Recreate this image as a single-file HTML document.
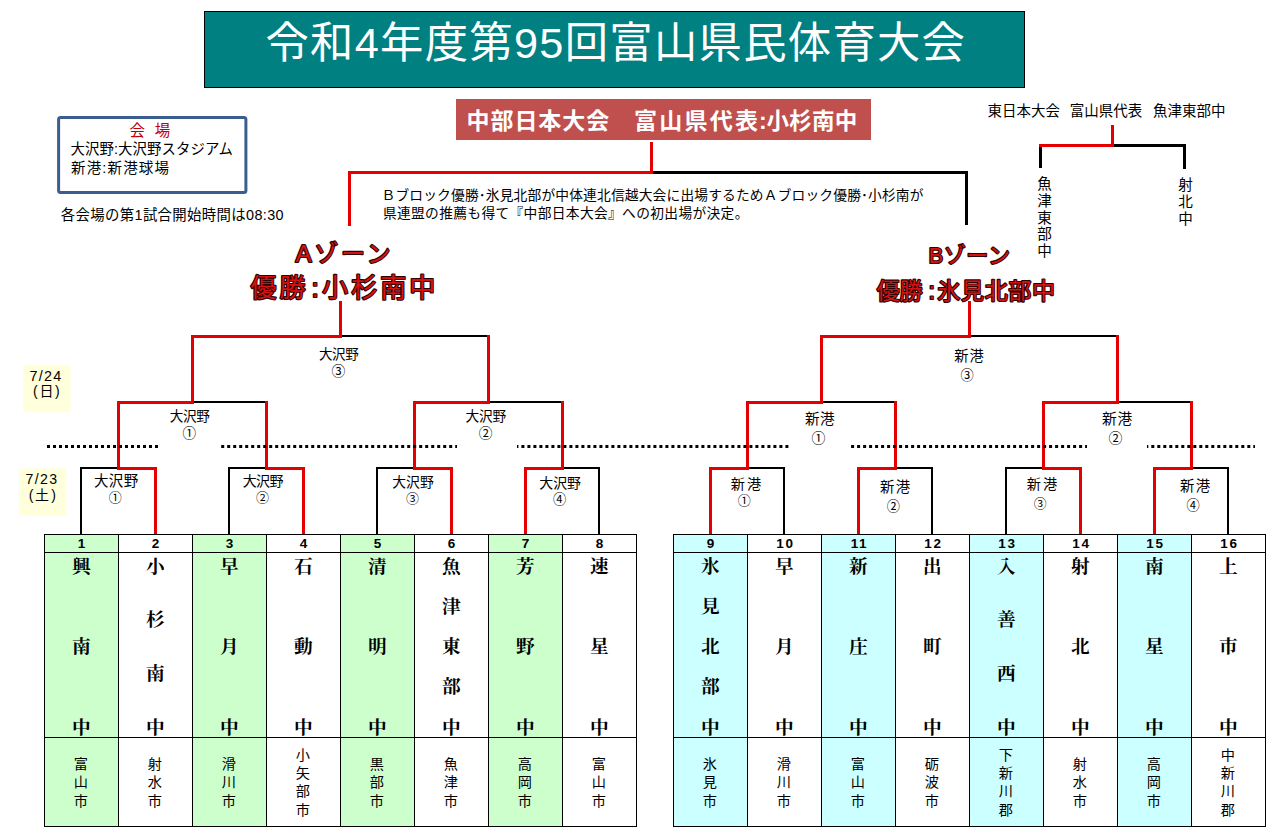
<!DOCTYPE html>
<html lang="ja"><head><meta charset="utf-8"><title>令和4年度第95回富山県民体育大会</title>
<style>
html,body{margin:0;padding:0;background:#fff}
body{width:1266px;height:827px;overflow:hidden;position:relative;font-family:"Liberation Sans",sans-serif}
#pg{position:absolute;left:0;top:0;width:1266px;height:827px;overflow:hidden}
svg{position:absolute;left:0;top:0}
svg text{font-family:"Liberation Sans","Noto Sans CJK JP",sans-serif}
svg text.m{font-family:"Liberation Serif","Noto Serif CJK SC",serif;font-weight:bold;font-size:18.67px;text-anchor:middle;fill:#000}
svg text.c{font-size:14.2px;text-anchor:middle;fill:#000}
svg text.z{fill:#d41212;stroke:#2c0202;stroke-width:2.2;stroke-linejoin:round;paint-order:stroke}
.n{position:absolute;top:537px;width:40px;text-align:center;font-weight:bold;font-size:13.5px;line-height:14px;letter-spacing:1.6px;text-indent:1.6px;color:#000}
</style></head><body><div id="pg">
<svg width="1266" height="827" viewBox="0 0 1266 827">
<g shape-rendering="crispEdges"><rect x="204" y="11" width="821" height="77" fill="#000"/><rect x="205" y="12" width="819" height="75" fill="#008080"/><rect x="456" y="99" width="415" height="40.5" fill="#c0504d"/><rect x="45" y="535" width="73" height="291" fill="#ccffcc"/><rect x="193" y="535" width="73" height="291" fill="#ccffcc"/><rect x="341" y="535" width="73" height="291" fill="#ccffcc"/><rect x="489" y="535" width="73" height="291" fill="#ccffcc"/><rect x="44" y="534" width="593" height="1" fill="#000"/><rect x="44" y="552" width="593" height="1" fill="#000"/><rect x="44" y="737" width="593" height="1" fill="#000"/><rect x="44" y="826" width="593" height="1" fill="#000"/><rect x="44" y="534" width="1" height="293" fill="#000"/><rect x="118" y="534" width="1" height="293" fill="#000"/><rect x="192" y="534" width="1" height="293" fill="#000"/><rect x="266" y="534" width="1" height="293" fill="#000"/><rect x="340" y="534" width="1" height="293" fill="#000"/><rect x="414" y="534" width="1" height="293" fill="#000"/><rect x="488" y="534" width="1" height="293" fill="#000"/><rect x="562" y="534" width="1" height="293" fill="#000"/><rect x="636" y="534" width="1" height="293" fill="#000"/><rect x="674" y="535" width="73" height="291" fill="#ccffff"/><rect x="822" y="535" width="73" height="291" fill="#ccffff"/><rect x="970" y="535" width="73" height="291" fill="#ccffff"/><rect x="1118" y="535" width="73" height="291" fill="#ccffff"/><rect x="673" y="534" width="593" height="1" fill="#000"/><rect x="673" y="552" width="593" height="1" fill="#000"/><rect x="673" y="737" width="593" height="1" fill="#000"/><rect x="673" y="826" width="593" height="1" fill="#000"/><rect x="673" y="534" width="1" height="293" fill="#000"/><rect x="747" y="534" width="1" height="293" fill="#000"/><rect x="821" y="534" width="1" height="293" fill="#000"/><rect x="895" y="534" width="1" height="293" fill="#000"/><rect x="969" y="534" width="1" height="293" fill="#000"/><rect x="1043" y="534" width="1" height="293" fill="#000"/><rect x="1117" y="534" width="1" height="293" fill="#000"/><rect x="1191" y="534" width="1" height="293" fill="#000"/><rect x="1265" y="534" width="1" height="293" fill="#000"/><rect x="80" y="467" width="37" height="2" fill="#000"/><rect x="80" y="467" width="2" height="67" fill="#000"/><rect x="117" y="467" width="40" height="3" fill="#e40000"/><rect x="154" y="467" width="3" height="67" fill="#e40000"/><rect x="228" y="467" width="37" height="2" fill="#000"/><rect x="228" y="467" width="2" height="67" fill="#000"/><rect x="265" y="467" width="40" height="3" fill="#e40000"/><rect x="302" y="467" width="3" height="67" fill="#e40000"/><rect x="376" y="467" width="37" height="2" fill="#000"/><rect x="376" y="467" width="2" height="67" fill="#000"/><rect x="413" y="467" width="40" height="3" fill="#e40000"/><rect x="450" y="467" width="3" height="67" fill="#e40000"/><rect x="561" y="467" width="39" height="2" fill="#000"/><rect x="598" y="467" width="2" height="67" fill="#000"/><rect x="524" y="467" width="40" height="3" fill="#e40000"/><rect x="524" y="467" width="3" height="67" fill="#e40000"/><rect x="191" y="401" width="76" height="2" fill="#000"/><rect x="117" y="401" width="77" height="3" fill="#e40000"/><rect x="487" y="401" width="76" height="2" fill="#000"/><rect x="413" y="401" width="77" height="3" fill="#e40000"/><rect x="339" y="335" width="150" height="2" fill="#000"/><rect x="191" y="335" width="151" height="3" fill="#e40000"/><rect x="117" y="401" width="3" height="69" fill="#e40000"/><rect x="265" y="401" width="3" height="69" fill="#e40000"/><rect x="413" y="401" width="3" height="69" fill="#e40000"/><rect x="561" y="401" width="3" height="69" fill="#e40000"/><rect x="191" y="335" width="3" height="69" fill="#e40000"/><rect x="487" y="335" width="3" height="69" fill="#e40000"/><rect x="339" y="301" width="3" height="37" fill="#e40000"/><rect x="746" y="467" width="39" height="2" fill="#000"/><rect x="783" y="467" width="2" height="67" fill="#000"/><rect x="709" y="467" width="40" height="3" fill="#e40000"/><rect x="709" y="467" width="3" height="67" fill="#e40000"/><rect x="894" y="467" width="39" height="2" fill="#000"/><rect x="931" y="467" width="2" height="67" fill="#000"/><rect x="857" y="467" width="40" height="3" fill="#e40000"/><rect x="857" y="467" width="3" height="67" fill="#e40000"/><rect x="1005" y="467" width="37" height="2" fill="#000"/><rect x="1005" y="467" width="2" height="67" fill="#000"/><rect x="1042" y="467" width="40" height="3" fill="#e40000"/><rect x="1079" y="467" width="3" height="67" fill="#e40000"/><rect x="1190" y="467" width="39" height="2" fill="#000"/><rect x="1227" y="467" width="2" height="67" fill="#000"/><rect x="1153" y="467" width="40" height="3" fill="#e40000"/><rect x="1153" y="467" width="3" height="67" fill="#e40000"/><rect x="820" y="401" width="76" height="2" fill="#000"/><rect x="746" y="401" width="77" height="3" fill="#e40000"/><rect x="1116" y="401" width="76" height="2" fill="#000"/><rect x="1042" y="401" width="77" height="3" fill="#e40000"/><rect x="968" y="335" width="150" height="2" fill="#000"/><rect x="820" y="335" width="151" height="3" fill="#e40000"/><rect x="746" y="401" width="3" height="69" fill="#e40000"/><rect x="894" y="401" width="3" height="69" fill="#e40000"/><rect x="1042" y="401" width="3" height="69" fill="#e40000"/><rect x="1190" y="401" width="3" height="69" fill="#e40000"/><rect x="820" y="335" width="3" height="69" fill="#e40000"/><rect x="1116" y="335" width="3" height="69" fill="#e40000"/><rect x="968" y="301" width="3" height="37" fill="#e40000"/><rect x="653" y="171" width="315" height="3" fill="#000"/><rect x="965" y="171" width="3" height="53.6" fill="#000"/><rect x="348" y="171" width="305" height="3" fill="#e40000"/><rect x="348" y="171" width="3" height="55" fill="#e40000"/><rect x="650" y="142.4" width="3" height="31.6" fill="#e40000"/><rect x="1114" y="144" width="72" height="3" fill="#000"/><rect x="1039" y="146" width="3" height="22.3" fill="#000"/><rect x="1183" y="144" width="3" height="25.3" fill="#000"/><rect x="1039" y="144" width="75" height="3" fill="#e40000"/><rect x="1111" y="125.2" width="3" height="21.8" fill="#e40000"/></g>
<rect x="58.6" y="117.5" width="187.3" height="75" rx="2" fill="#fff" stroke="#3a5f8f" stroke-width="3"/><rect x="23.2" y="364.8" width="47.3" height="47.5" fill="#ffffdc"/><rect x="19" y="468.3" width="47.3" height="47.5" fill="#ffffdc"/><g fill="#000"><rect x="47" y="445" width="3" height="3"/><rect x="53" y="445" width="3" height="3"/><rect x="59" y="445" width="3" height="3"/><rect x="65" y="445" width="3" height="3"/><rect x="71" y="445" width="3" height="3"/><rect x="77" y="445" width="3" height="3"/><rect x="83" y="445" width="3" height="3"/><rect x="89" y="445" width="3" height="3"/><rect x="95" y="445" width="3" height="3"/><rect x="101" y="445" width="3" height="3"/><rect x="107" y="445" width="3" height="3"/><rect x="113" y="445" width="3" height="3"/><rect x="119" y="445" width="3" height="3"/><rect x="125" y="445" width="3" height="3"/><rect x="131" y="445" width="3" height="3"/><rect x="137" y="445" width="3" height="3"/><rect x="143" y="445" width="3" height="3"/><rect x="149" y="445" width="3" height="3"/><rect x="155" y="445" width="3" height="3"/><rect x="221.2" y="445" width="3" height="3"/><rect x="227.2" y="445" width="3" height="3"/><rect x="233.2" y="445" width="3" height="3"/><rect x="239.2" y="445" width="3" height="3"/><rect x="245.2" y="445" width="3" height="3"/><rect x="251.2" y="445" width="3" height="3"/><rect x="257.2" y="445" width="3" height="3"/><rect x="263.2" y="445" width="3" height="3"/><rect x="269.2" y="445" width="3" height="3"/><rect x="275.2" y="445" width="3" height="3"/><rect x="281.2" y="445" width="3" height="3"/><rect x="287.2" y="445" width="3" height="3"/><rect x="293.2" y="445" width="3" height="3"/><rect x="299.2" y="445" width="3" height="3"/><rect x="305.2" y="445" width="3" height="3"/><rect x="311.2" y="445" width="3" height="3"/><rect x="317.2" y="445" width="3" height="3"/><rect x="323.2" y="445" width="3" height="3"/><rect x="329.2" y="445" width="3" height="3"/><rect x="335.2" y="445" width="3" height="3"/><rect x="341.2" y="445" width="3" height="3"/><rect x="347.2" y="445" width="3" height="3"/><rect x="353.2" y="445" width="3" height="3"/><rect x="359.2" y="445" width="3" height="3"/><rect x="365.2" y="445" width="3" height="3"/><rect x="371.2" y="445" width="3" height="3"/><rect x="377.2" y="445" width="3" height="3"/><rect x="383.2" y="445" width="3" height="3"/><rect x="389.2" y="445" width="3" height="3"/><rect x="395.2" y="445" width="3" height="3"/><rect x="401.2" y="445" width="3" height="3"/><rect x="407.2" y="445" width="3" height="3"/><rect x="413.2" y="445" width="3" height="3"/><rect x="419.2" y="445" width="3" height="3"/><rect x="425.2" y="445" width="3" height="3"/><rect x="431.2" y="445" width="3" height="3"/><rect x="437.2" y="445" width="3" height="3"/><rect x="443.2" y="445" width="3" height="3"/><rect x="449.2" y="445" width="3" height="3"/><rect x="455.2" y="445" width="1.8" height="3"/><rect x="517" y="445" width="1.4" height="3"/><rect x="521.4" y="445" width="3" height="3"/><rect x="527.4" y="445" width="3" height="3"/><rect x="533.4" y="445" width="3" height="3"/><rect x="539.4" y="445" width="3" height="3"/><rect x="545.4" y="445" width="3" height="3"/><rect x="551.4" y="445" width="3" height="3"/><rect x="557.4" y="445" width="3" height="3"/><rect x="563.4" y="445" width="3" height="3"/><rect x="569.4" y="445" width="3" height="3"/><rect x="575.4" y="445" width="3" height="3"/><rect x="581.4" y="445" width="3" height="3"/><rect x="587.4" y="445" width="3" height="3"/><rect x="593.4" y="445" width="3" height="3"/><rect x="599.4" y="445" width="3" height="3"/><rect x="605.4" y="445" width="3" height="3"/><rect x="611.4" y="445" width="3" height="3"/><rect x="617.4" y="445" width="3" height="3"/><rect x="623.4" y="445" width="3" height="3"/><rect x="629.4" y="445" width="3" height="3"/><rect x="635.4" y="445" width="3" height="3"/><rect x="641.4" y="445" width="3" height="3"/><rect x="647.4" y="445" width="3" height="3"/><rect x="653.4" y="445" width="3" height="3"/><rect x="659.4" y="445" width="3" height="3"/><rect x="665.4" y="445" width="3" height="3"/><rect x="671.4" y="445" width="3" height="3"/><rect x="677.4" y="445" width="3" height="3"/><rect x="683.4" y="445" width="3" height="3"/><rect x="689.4" y="445" width="3" height="3"/><rect x="695.4" y="445" width="3" height="3"/><rect x="701.4" y="445" width="3" height="3"/><rect x="707.4" y="445" width="3" height="3"/><rect x="713.4" y="445" width="3" height="3"/><rect x="719.4" y="445" width="3" height="3"/><rect x="725.4" y="445" width="3" height="3"/><rect x="731.4" y="445" width="3" height="3"/><rect x="737.4" y="445" width="3" height="3"/><rect x="743.4" y="445" width="3" height="3"/><rect x="749.4" y="445" width="3" height="3"/><rect x="755.4" y="445" width="3" height="3"/><rect x="761.4" y="445" width="3" height="3"/><rect x="767.4" y="445" width="3" height="3"/><rect x="773.4" y="445" width="3" height="3"/><rect x="779.4" y="445" width="3" height="3"/><rect x="785.4" y="445" width="3" height="3"/><rect x="851.1" y="445" width="3" height="3"/><rect x="857.1" y="445" width="3" height="3"/><rect x="863.1" y="445" width="3" height="3"/><rect x="869.1" y="445" width="3" height="3"/><rect x="875.1" y="445" width="3" height="3"/><rect x="881.1" y="445" width="3" height="3"/><rect x="887.1" y="445" width="3" height="3"/><rect x="893.1" y="445" width="3" height="3"/><rect x="899.1" y="445" width="3" height="3"/><rect x="905.1" y="445" width="3" height="3"/><rect x="911.1" y="445" width="3" height="3"/><rect x="917.1" y="445" width="3" height="3"/><rect x="923.1" y="445" width="3" height="3"/><rect x="929.1" y="445" width="3" height="3"/><rect x="935.1" y="445" width="3" height="3"/><rect x="941.1" y="445" width="3" height="3"/><rect x="947.1" y="445" width="3" height="3"/><rect x="953.1" y="445" width="3" height="3"/><rect x="959.1" y="445" width="3" height="3"/><rect x="965.1" y="445" width="3" height="3"/><rect x="971.1" y="445" width="3" height="3"/><rect x="977.1" y="445" width="3" height="3"/><rect x="983.1" y="445" width="3" height="3"/><rect x="989.1" y="445" width="3" height="3"/><rect x="995.1" y="445" width="3" height="3"/><rect x="1001.1" y="445" width="3" height="3"/><rect x="1007.1" y="445" width="3" height="3"/><rect x="1013.1" y="445" width="3" height="3"/><rect x="1019.1" y="445" width="3" height="3"/><rect x="1025.1" y="445" width="3" height="3"/><rect x="1031.1" y="445" width="3" height="3"/><rect x="1037.1" y="445" width="3" height="3"/><rect x="1043.1" y="445" width="3" height="3"/><rect x="1049.1" y="445" width="3" height="3"/><rect x="1055.1" y="445" width="3" height="3"/><rect x="1061.1" y="445" width="3" height="3"/><rect x="1067.1" y="445" width="3" height="3"/><rect x="1073.1" y="445" width="3" height="3"/><rect x="1079.1" y="445" width="3" height="3"/><rect x="1085.1" y="445" width="1.9" height="3"/><rect x="1147" y="445" width="1.3" height="3"/><rect x="1151.3" y="445" width="3" height="3"/><rect x="1157.3" y="445" width="3" height="3"/><rect x="1163.3" y="445" width="3" height="3"/><rect x="1169.3" y="445" width="3" height="3"/><rect x="1175.3" y="445" width="3" height="3"/><rect x="1181.3" y="445" width="3" height="3"/><rect x="1187.3" y="445" width="3" height="3"/><rect x="1193.3" y="445" width="3" height="3"/><rect x="1199.3" y="445" width="3" height="3"/><rect x="1205.3" y="445" width="3" height="3"/><rect x="1211.3" y="445" width="3" height="3"/><rect x="1217.3" y="445" width="3" height="3"/><rect x="1223.3" y="445" width="3" height="3"/><rect x="1229.3" y="445" width="3" height="3"/><rect x="1235.3" y="445" width="3" height="3"/><rect x="1241.3" y="445" width="3" height="3"/><rect x="1247.3" y="445" width="3" height="3"/><rect x="1253.3" y="445" width="1.7" height="3"/></g>
<text x="265.4" y="58.2" font-size="43.3" fill="#fff" textLength="699.5">令和4年度第95回富山県民体育大会</text>
<text x="466.5" y="128.5" font-size="23" font-weight="bold" fill="#fff" textLength="142.7">中部日本大会</text>
<text x="633.9" y="128.6" font-size="23" font-weight="bold" fill="#fff" textLength="124.2">富山県代表</text>
<text x="759" y="128.6" font-size="23" font-weight="bold" fill="#fff">:</text>
<text x="766.6" y="128.6" font-size="22.5" font-weight="bold" fill="#fff" textLength="90.7">小杉南中</text>
<text x="129.6 142 154.7" y="135.6" font-size="15.5" fill="#c00000">会　場</text>
<text x="70.5" y="154.2" font-size="14.4" fill="#000" textLength="162.5">大沢野:大沢野スタジアム</text>
<text x="71" y="172.7" font-size="14.5" fill="#000" textLength="98">新港:新港球場</text>
<text x="60.8" y="220.2" font-size="14.4" fill="#000" textLength="222.7">各会場の第1試合開始時間は08:30</text>
<text x="381.5" y="199.5" font-size="13.74" fill="#000" textLength="542">Ｂブロック優勝･氷見北部が中体連北信越大会に出場するためＡブロック優勝･小杉南が</text>
<text x="382.9" y="218.2" font-size="13.72" fill="#000" textLength="365.5">県連盟の推薦も得て『中部日本大会』への初出場が決定。</text>
<text y="116.3" font-size="14.5" fill="#000"><tspan x="987.5">東日本大会</tspan> <tspan x="1069.7">富山県代表</tspan> <tspan x="1153.1">魚津東部中</tspan></text>
<text font-size="14.6" fill="#000" text-anchor="middle" x="1044.5 1044.5 1044.5 1044.5 1044.5" y="189.2 205.5 222.7 238.9 255.6">魚津東部中</text>
<text font-size="14.6" fill="#000" text-anchor="middle" x="1185.5 1185.5 1185.5" y="190 207.4 223.9">射北中</text>
<text class="z" x="295.6" y="262.3" font-size="24" textLength="95">Aゾーン</text>
<text class="z" x="250.6" y="297.4" font-size="26" textLength="55">優勝</text>
<text class="z" x="311.5" y="297.4" font-size="26">:</text>
<text class="z" x="322.1" y="297.4" font-size="26" textLength="113.1">小杉南中</text>
<text class="z" x="928.4" y="263.2" font-size="22" textLength="81.5">Bゾーン</text>
<text class="z" x="876.7" y="298.8" font-size="23" textLength="45.9">優勝</text>
<text class="z" x="928.5" y="298.8" font-size="23">:</text>
<text class="z" x="937.3" y="298.8" font-size="23" textLength="117.7">氷見北部中</text>
<text x="29.6" y="381.1" font-size="14.4" fill="#000" textLength="31.6">7/24</text>
<text x="33 39.5 55" y="396.3" font-size="14" fill="#000">(日)</text>
<text x="25.4" y="484.3" font-size="14.1" fill="#000" textLength="31.6">7/23</text>
<text x="28.8 34.9 51.3" y="500" font-size="14" fill="#000">(土)</text>
<text x="318.9" y="359.1" font-size="13.5" fill="#000" textLength="39.8">大沢野</text>
<text x="331.6" y="375.6" font-size="13.8" fill="#000">③</text>
<text x="169.7" y="421.2" font-size="13.6" fill="#000" textLength="40.2">大沢野</text>
<text x="182.6" y="437.6" font-size="13.6" fill="#000">①</text>
<text x="465.5" y="421.2" font-size="13.7" fill="#000" textLength="40.6">大沢野</text>
<text x="478.8" y="437.8" font-size="13.7" fill="#000">②</text>
<text x="94" y="485.9" font-size="14.5" fill="#000" textLength="44.2">大沢野</text>
<text x="108.7" y="502.1" font-size="13" fill="#000">①</text>
<text x="242.7" y="485.9" font-size="14" fill="#000" textLength="40.8">大沢野</text>
<text x="256.1" y="502.1" font-size="13" fill="#000">②</text>
<text x="392.2" y="486.6" font-size="13.8" fill="#000" textLength="41.5">大沢野</text>
<text x="406" y="502.6" font-size="13" fill="#000">③</text>
<text x="539.3" y="487.6" font-size="13.9" fill="#000" textLength="41.7">大沢野</text>
<text x="552.9" y="503.6" font-size="13.2" fill="#000">④</text>
<text x="954.2" y="360.5" font-size="14.3" fill="#000" textLength="29.7">新港</text>
<text x="960.4" y="380.2" font-size="13.2" fill="#000">③</text>
<text x="804.9" y="423.9" font-size="14.6" fill="#000" textLength="29.8">新港</text>
<text x="811.5" y="442.8" font-size="13.9" fill="#000">①</text>
<text x="1102.1" y="423.9" font-size="14.7" fill="#000" textLength="30">新港</text>
<text x="1108.5" y="442.8" font-size="13.9" fill="#000">②</text>
<text x="730.8" y="489" font-size="14.2" fill="#000" textLength="30.4">新港</text>
<text x="737.7" y="505.1" font-size="13" fill="#000">①</text>
<text x="879.9" y="492" font-size="14.4" fill="#000" textLength="30.2">新港</text>
<text x="886.8" y="511" font-size="13.2" fill="#000">②</text>
<text x="1026.8" y="489" font-size="14.2" fill="#000" textLength="30.4">新港</text>
<text x="1033.7" y="507.9" font-size="12.8" fill="#000">③</text>
<text x="1180" y="490.7" font-size="14.4" fill="#000" textLength="30.2">新港</text>
<text x="1186.6" y="509.7" font-size="13.2" fill="#000">④</text>
<text class="m" x="81.3 81.3 81.3" y="572.7 653.1 733.5">興南中</text>
<text class="c" x="80.9 80.9 80.9" y="769.1 787.3 805.5">富山市</text>
<text class="m" x="155.3 155.3 155.3 155.3" y="572.7 626.3 679.9 733.5">小杉南中</text>
<text class="c" x="154.9 154.9 154.9" y="769.1 787.3 805.5">射水市</text>
<text class="m" x="229.3 229.3 229.3" y="572.7 653.1 733.5">早月中</text>
<text class="c" x="228.9 228.9 228.9" y="769.1 787.3 805.5">滑川市</text>
<text class="m" x="303.3 303.3 303.3" y="572.7 653.1 733.5">石動中</text>
<text class="c" x="302.9 302.9 302.9 302.9" y="760 778.2 796.4 814.6">小矢部市</text>
<text class="m" x="377.3 377.3 377.3" y="572.7 653.1 733.5">清明中</text>
<text class="c" x="376.9 376.9 376.9" y="769.1 787.3 805.5">黒部市</text>
<text class="m" x="451.3 451.3 451.3 451.3 451.3" y="572.7 612.9 653.1 693.3 733.5">魚津東部中</text>
<text class="c" x="450.9 450.9 450.9" y="769.1 787.3 805.5">魚津市</text>
<text class="m" x="525.3 525.3 525.3" y="572.7 653.1 733.5">芳野中</text>
<text class="c" x="524.9 524.9 524.9" y="769.1 787.3 805.5">高岡市</text>
<text class="m" x="599.3 599.3 599.3" y="572.7 653.1 733.5">速星中</text>
<text class="c" x="598.9 598.9 598.9" y="769.1 787.3 805.5">富山市</text>
<text class="m" x="710.3 710.3 710.3 710.3 710.3" y="572.7 612.9 653.1 693.3 733.5">氷見北部中</text>
<text class="c" x="709.9 709.9 709.9" y="769.1 787.3 805.5">氷見市</text>
<text class="m" x="784.3 784.3 784.3" y="572.7 653.1 733.5">早月中</text>
<text class="c" x="783.9 783.9 783.9" y="769.1 787.3 805.5">滑川市</text>
<text class="m" x="858.3 858.3 858.3" y="572.7 653.1 733.5">新庄中</text>
<text class="c" x="857.9 857.9 857.9" y="769.1 787.3 805.5">富山市</text>
<text class="m" x="932.3 932.3 932.3" y="572.7 653.1 733.5">出町中</text>
<text class="c" x="931.9 931.9 931.9" y="769.1 787.3 805.5">砺波市</text>
<text class="m" x="1006.3 1006.3 1006.3 1006.3" y="572.7 626.3 679.9 733.5">入善西中</text>
<text class="c" x="1005.9 1005.9 1005.9 1005.9" y="760 778.2 796.4 814.6">下新川郡</text>
<text class="m" x="1080.3 1080.3 1080.3" y="572.7 653.1 733.5">射北中</text>
<text class="c" x="1079.9 1079.9 1079.9" y="769.1 787.3 805.5">射水市</text>
<text class="m" x="1154.3 1154.3 1154.3" y="572.7 653.1 733.5">南星中</text>
<text class="c" x="1153.9 1153.9 1153.9" y="769.1 787.3 805.5">高岡市</text>
<text class="m" x="1228.3 1228.3 1228.3" y="572.7 653.1 733.5">上市中</text>
<text class="c" x="1227.9 1227.9 1227.9 1227.9" y="760 778.2 796.4 814.6">中新川郡</text>
</svg>
<span class="n" style="left:61.6px">1</span><span class="n" style="left:135.6px">2</span><span class="n" style="left:209.6px">3</span><span class="n" style="left:283.6px">4</span><span class="n" style="left:357.6px">5</span><span class="n" style="left:431.6px">6</span><span class="n" style="left:505.6px">7</span><span class="n" style="left:579.6px">8</span><span class="n" style="left:690.6px">9</span><span class="n" style="left:764.6px">10</span><span class="n" style="left:838.6px">11</span><span class="n" style="left:912.6px">12</span><span class="n" style="left:986.6px">13</span><span class="n" style="left:1060.6px">14</span><span class="n" style="left:1134.6px">15</span><span class="n" style="left:1208.6px">16</span>
</div></body></html>
